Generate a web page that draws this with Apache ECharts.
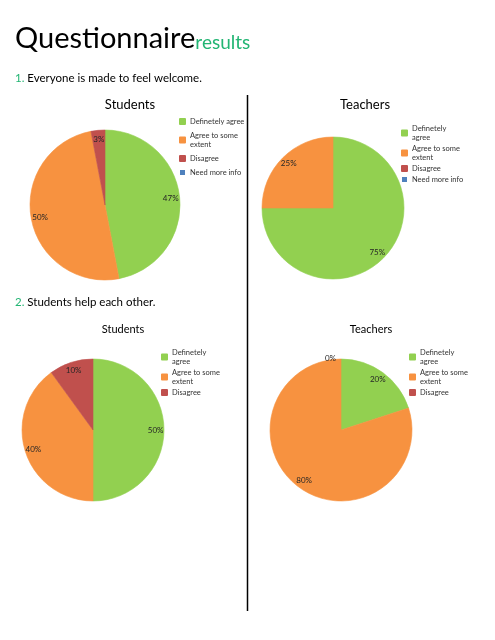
<!DOCTYPE html>
<html>
<head>
<meta charset="utf-8">
<script src="https://cdn.jsdelivr.net/npm/echarts@6/dist/echarts.min.js"></script>
<style>
html,body{margin:0;padding:0;background:#fff;}
#main{width:495px;height:640px;}
#err{position:absolute;left:0;top:0;font:12px monospace;color:red;white-space:pre-wrap;}
</style>
</head>
<body>
<div id="main"></div>
<div id="err"></div>
<script>
//分类
var categories = ['Definetely agree', 'Agree to some extent', 'Disagree', 'Need more info'];
//问题1
var q1Students = [47, 50, 3, null];
var q1Teachers = [75, 25, null, null];
//问题2 (no "Need more info" item)
var q2Students = [50, 40, 10];
var q2Teachers = [20, 80, 0];

var question1 = 'Everyone is made to feel welcome.';
var question2 = 'Students help each other.';

var palette = ['#92D050', '#F79240', '#C0504D', '#4F81BD'];
var font = 'Lato';
var green = '#22B573';

// legend text as wrapped in the original
var wrapA = {'Agree to some extent': 'Agree to some\nextent'};
var wrapB = {'Definetely agree': 'Definetely\nagree', 'Agree to some extent': 'Agree to some\nextent'};

var panels = [
    {title: 'Students', values: q1Students, cx: 105, cy: 205, r: 75, tx: 130, ty: 105, lx: 179, ly: 117, wrap: wrapA, gap: 5, tsize: 13},
    {title: 'Teachers', values: q1Teachers, cx: 333, cy: 208, r: 71, tx: 365, ty: 105, lx: 401, ly: 124, wrap: wrapB, gap: 2, tsize: 13},
    {title: 'Students', values: q2Students, cx: 93, cy: 430, r: 71, tx: 123, ty: 329, lx: 161, ly: 348, wrap: wrapB, gap: 2, tsize: 11},
    {title: 'Teachers', values: q2Teachers, cx: 341, cy: 430, r: 71, tx: 371, ty: 329, lx: 409, ly: 348, wrap: wrapB, gap: 2, tsize: 11}
];

function makeData(values, forLabel) {
    return values.map(function (v, i) {
        var item = {name: categories[i], value: v};
        if (forLabel) {
            item.itemStyle = {color: 'transparent', borderWidth: 0};
            item.label = {show: v !== null};
            if (v === 0) {
                item.label.position = 'outside';
                item.labelLine = {show: false, length: 1, length2: 0};
            }
        } else {
            // border in the slice's own colour hides the seam between slices
            item.itemStyle = {color: palette[i], borderColor: palette[i], borderWidth: v ? 0.6 : 0};
        }
        return item;
    });
}

function draw() {
    var chart = echarts.init(document.getElementById('main'));
    var series = [];
    var labelSeries = [];
    var legends = [];
    var graphics = [];

    panels.forEach(function (p, k) {
        series.push({
            name: p.title + k,
            type: 'pie',
            center: [p.cx, p.cy],
            radius: [0, p.r],
            startAngle: 90,
            clockwise: true,
            avoidLabelOverlap: false,
            silent: true,
            label: {show: false},
            labelLine: {show: false},
            data: makeData(p.values, false)
        });
        //标签环 (labels sit near the rim)
        labelSeries.push({
            name: p.title + k + 'lbl',
            type: 'pie',
            center: [p.cx, p.cy],
            radius: [p.r * 0.68, p.r],
            startAngle: 90,
            clockwise: true,
            avoidLabelOverlap: false,
            silent: true,
            legendHoverLink: false,
            percentPrecision: 0,
            label: {
                show: true,
                position: 'inside',
                formatter: '{d}%',
                fontFamily: font,
                fontSize: 8,
                color: '#262626'
            },
            data: makeData(p.values, true)
        });
        var wrap = p.wrap;
        legends.push({
            orient: 'vertical',
            left: p.lx,
            top: p.ly,
            icon: 'rect',
            itemWidth: 5,
            itemHeight: 5,
            itemGap: p.gap,
            padding: 0,
            selectedMode: false,
            data: categories.slice(0, p.values.length),
            formatter: function (name) {
                return wrap[name] || name;
            },
            textStyle: {fontFamily: font, fontSize: 7.5, color: '#333', lineHeight: 9}
        });
        graphics.push({
            type: 'text',
            x: p.tx,
            y: p.ty,
            style: {text: p.title, fontFamily: font, fontSize: p.tsize, fill: '#000', align: 'center', verticalAlign: 'middle'}
        });
    });

    //大标题
    graphics.push({
        type: 'text',
        x: 15,
        y: 53,
        style: {
            text: '{a|Questionnaire}{b|results}',
            verticalAlign: 'bottom',
            rich: {
                a: {fontFamily: font, fontSize: 29, fill: '#000', verticalAlign: 'bottom'},
                b: {fontFamily: font, fontSize: 19, fill: green, verticalAlign: 'bottom', padding: [0, 0, 1, 0]}
            }
        }
    });
    graphics.push({
        type: 'text', x: 15, y: 78,
        style: {text: '{n|1.} ' + question1, verticalAlign: 'middle', fontFamily: font, fontSize: 11.5, fill: '#000',
            rich: {n: {fontFamily: font, fontSize: 11.5, fill: green}}}
    });
    graphics.push({
        type: 'text', x: 15, y: 302,
        style: {text: '{n|2.} ' + question2, verticalAlign: 'middle', fontFamily: font, fontSize: 11.5, fill: '#000',
            rich: {n: {fontFamily: font, fontSize: 11.5, fill: green}}}
    });
    //分隔线
    graphics.push({
        type: 'line',
        shape: {x1: 247.5, y1: 95, x2: 247.5, y2: 611},
        style: {stroke: '#000', lineWidth: 1.5}
    });

    chart.setOption({
        backgroundColor: '#fff',
        animation: false,
        legend: legends,
        graphic: graphics,
        series: series.concat(labelSeries)
    });
}

try {
    draw();
} catch (e) {
    document.getElementById('err').textContent = String(e && e.stack || e);
}
</script>
</body>
</html>
